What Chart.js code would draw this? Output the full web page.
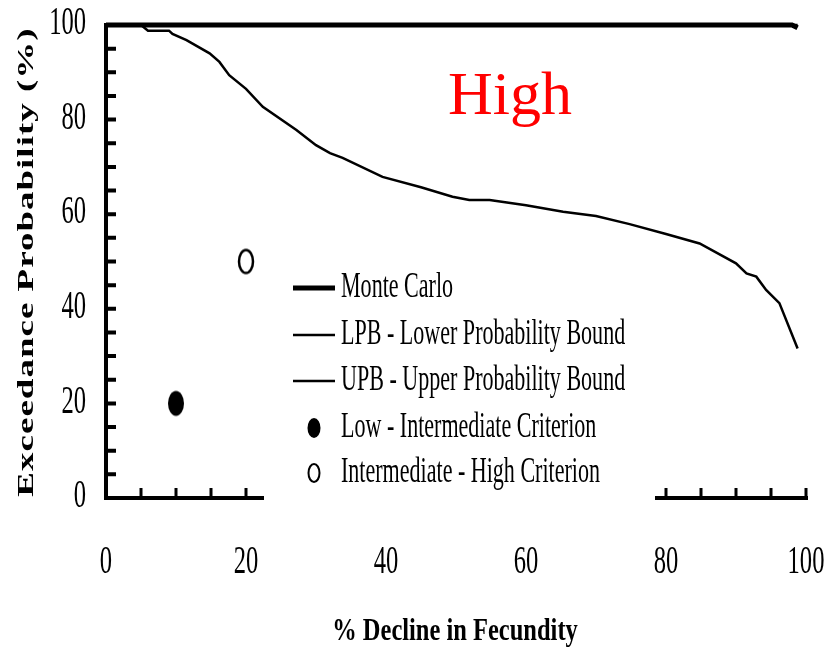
<!DOCTYPE html>
<html>
<head>
<meta charset="utf-8">
<script src="https://cdn.jsdelivr.net/npm/chart.js@4.4.0/dist/chart.umd.min.js"></script>
<style>
  body { margin: 0; background: #fff; }
  canvas { display: block; }
</style>
</head>
<body>
<canvas id="fecChart" width="825" height="654"></canvas>
<script>
// data
var lpbX = [0, 5, 6, 9, 9.5, 11.5, 14.8, 16.2, 17.6, 20, 22.4, 27.2, 30, 32, 33.8, 39.5, 45, 49.5, 51.9, 54.8, 60, 65.3, 70, 74.8, 80, 84.8, 90, 91.5, 92.9, 94.3, 96.2, 98.8];
var lpbY = [100, 100, 98.8, 98.8, 98.1, 96.8, 94, 92.2, 89.4, 86.5, 82.7, 77.8, 74.6, 72.9, 71.9, 67.9, 65.7, 63.7, 63, 63, 61.9, 60.5, 59.6, 57.9, 55.8, 53.8, 49.6, 47.5, 46.8, 44, 41.2, 31.6];
var mcX = [0, 98, 98.8];
var mcY = [100, 100, 99.4];
var upbX = [0, 98.8];
var upbY = [100, 100];
var lowX = [10];
var lowY = [20];
var highX = [20];
var highY = [50];

var xTicks = [0, 20, 40, 60, 80, 100];
var yTicks = [0, 20, 40, 60, 80, 100];
var minorStep = 5;

var seriesNames = ['Monte Carlo', 'LPB - Lower Probability Bound', 'UPB - Upper Probability Bound',
                   'Low - Intermediate Criterion', 'Intermediate - High Criterion'];
var panelLabel = 'High';
var xTitle = '% Decline in Fecundity';
var yTitle = 'Exceedance Probability (%)';

var SERIF = "'Liberation Serif', 'Times New Roman', serif";
var SQ = 0.63; // the original figure is squeezed horizontally

function pairs(xs, ys) {
    return xs.map(function (x, i) { return { x: x, y: ys[i] }; });
}

function ellipseImg(filled) {
    var c = document.createElement('canvas');
    c.width = 22; c.height = 30;
    var g = c.getContext('2d');
    g.beginPath();
    g.ellipse(11, 15, filled ? 8 : 7, filled ? 12.5 : 11.5, 0, 0, Math.PI * 2);
    if (filled) {
        g.fillStyle = '#000'; g.fill();
    } else {
        g.fillStyle = '#fff'; g.fill();
        g.lineWidth = 2.5; g.strokeStyle = '#000'; g.stroke();
    }
    return c;
}

function squish(ctx, text, x, y, font, sx, align) {
    ctx.save();
    ctx.font = font;
    ctx.textAlign = align;
    ctx.textBaseline = 'middle';
    ctx.translate(x, y);
    ctx.scale(sx, 1);
    ctx.fillText(text, 0, 0);
    ctx.restore();
}

var decorPlugin = {
    id: 'decor',
    afterDatasetsDraw: function (chart) {
        var ctx = chart.ctx;
        var xs = chart.scales.x, ys = chart.scales.y;
        var x0 = xs.getPixelForValue(0), x1 = xs.getPixelForValue(100);
        var y0 = ys.getPixelForValue(0), y1 = ys.getPixelForValue(100);
        ctx.save();
        ctx.strokeStyle = '#000';
        ctx.lineCap = 'butt';
        // axis lines
        ctx.lineWidth = 4;
        ctx.beginPath();
        ctx.moveTo(x0, y1 - 2); ctx.lineTo(x0, y0 + 2);
        ctx.moveTo(x0 - 2, y0); ctx.lineTo(x1 + 2, y0);
        ctx.stroke();
        // inward minor ticks
        ctx.lineWidth = 4;
        ctx.beginPath();
        for (var v = minorStep; v < 100; v += minorStep) {
            var py = ys.getPixelForValue(v);
            ctx.moveTo(x0, py); ctx.lineTo(x0 + 10, py);
        }
        ctx.stroke();
        ctx.lineWidth = 3;
        ctx.beginPath();
        for (var u = minorStep; u <= 100; u += minorStep) {
            var px = xs.getPixelForValue(u);
            ctx.moveTo(px, y0); ctx.lineTo(px, y0 - 10);
        }
        ctx.stroke();
        ctx.restore();
    },
    afterDraw: function (chart) {
        var ctx = chart.ctx;
        var xs = chart.scales.x, ys = chart.scales.y;
        ctx.save();
        ctx.fillStyle = '#000';
        // tick labels
        yTicks.forEach(function (v) {
            squish(ctx, String(v), 86, ys.getPixelForValue(v) - 1, '39px ' + SERIF, SQ, 'right');
        });
        xTicks.forEach(function (v) {
            squish(ctx, String(v), xs.getPixelForValue(v), 563, '39px ' + SERIF, SQ, 'center');
        });
        // axis titles
        squish(ctx, xTitle, 455, 632, 'bold 31px ' + SERIF, 0.79, 'center');
        ctx.save();
        ctx.translate(27, 262);
        ctx.rotate(-Math.PI / 2);
        ctx.scale(1, SQ);
        ctx.font = 'bold 37px ' + SERIF;
        ctx.letterSpacing = '1px';
        ctx.textAlign = 'center';
        ctx.textBaseline = 'middle';
        ctx.fillText(yTitle, 0, 0);
        ctx.restore();
        // panel label
        ctx.fillStyle = '#ff0000';
        ctx.font = '62px ' + SERIF;
        ctx.textAlign = 'center';
        ctx.textBaseline = 'alphabetic';
        ctx.fillText(panelLabel, 510, 114);

        // legend box (covers part of the x axis like the original)
        ctx.fillStyle = '#fff';
        ctx.fillRect(264, 268, 391, 236);
        var rows = [288, 335, 381, 428, 473];
        chart.data.datasets.forEach(function (ds, i) {
            var ry = rows[i];
            ctx.strokeStyle = '#000';
            ctx.fillStyle = '#000';
            if (ds.showLine) {
                ctx.lineWidth = ds.borderWidth;
                ctx.beginPath();
                ctx.moveTo(293, ry); ctx.lineTo(335, ry);
                ctx.stroke();
            } else {
                ctx.beginPath();
                if (ds.filledMarker) {
                    ctx.ellipse(314, ry, 6.5, 10, 0, 0, Math.PI * 2);
                    ctx.fill();
                } else {
                    ctx.ellipse(314, ry, 5.5, 9, 0, 0, Math.PI * 2);
                    ctx.lineWidth = 2;
                    ctx.stroke();
                }
            }
            squish(ctx, ds.label, 341, ry, '35px ' + SERIF, SQ, 'left');
        });
        ctx.restore();
    }
};

var ctx1 = document.getElementById('fecChart').getContext('2d');
var fecChart = new Chart(ctx1, {
    type: 'scatter',
    data: {
        datasets: [{
            label: seriesNames[0],
            data: pairs(mcX, mcY),
            showLine: true,
            borderColor: '#000',
            borderWidth: 5,
            pointRadius: 0,
            clip: false
        }, {
            label: seriesNames[1],
            data: pairs(lpbX, lpbY),
            showLine: true,
            borderColor: '#000',
            borderWidth: 2.5,
            pointRadius: 0,
            clip: false
        }, {
            label: seriesNames[2],
            data: pairs(upbX, upbY),
            showLine: true,
            borderColor: '#000',
            borderWidth: 2.5,
            pointRadius: 0,
            clip: false
        }, {
            label: seriesNames[3],
            data: pairs(lowX, lowY),
            pointStyle: ellipseImg(true),
            filledMarker: true,
            clip: false
        }, {
            label: seriesNames[4],
            data: pairs(highX, highY),
            pointStyle: ellipseImg(false),
            filledMarker: false,
            clip: false
        }]
    },
    options: {
        responsive: false,
        animation: false,
        layout: { padding: { left: 98, right: 19, top: 25, bottom: 148 } },
        scales: {
            x: {
                type: 'linear', min: 0, max: 100,
                grid: { display: false }, border: { display: false },
                ticks: { display: false }
            },
            y: {
                type: 'linear', min: 0, max: 100,
                grid: { display: false }, border: { display: false },
                ticks: { display: false }
            }
        },
        plugins: {
            legend: { display: false },
            tooltip: { enabled: false }
        }
    },
    plugins: [decorPlugin]
});
</script>
</body>
</html>
